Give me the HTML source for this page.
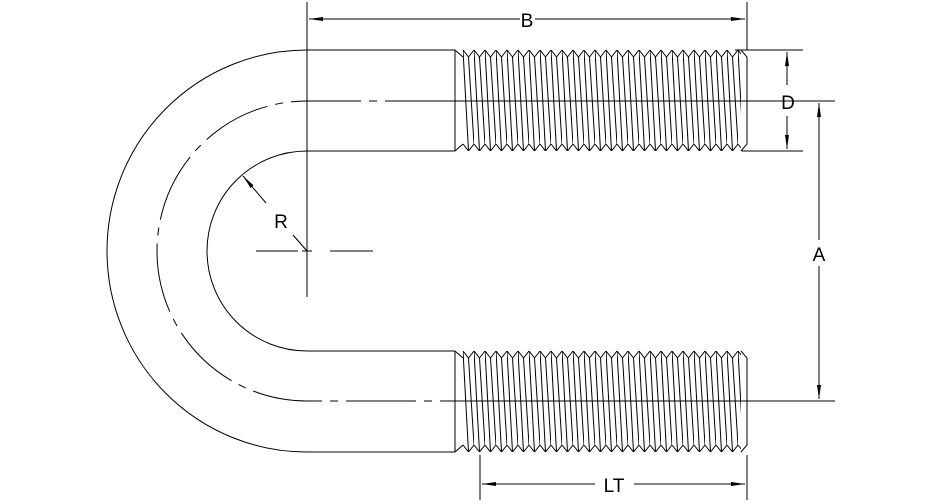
<!DOCTYPE html>
<html><head><style>html,body{margin:0;padding:0;background:#fff}svg{display:block}</style></head>
<body>
<svg width="942" height="504" viewBox="0 0 942 504" xmlns="http://www.w3.org/2000/svg" font-family="Liberation Sans, sans-serif">
<defs>
<pattern id="th" x="463" y="50" width="11" height="101" patternUnits="userSpaceOnUse">
<path d="M0,0 L5.5,7 L11,0 M0,94 L5.5,101 L11,94 M0,0 L5.5,101 M5.5,7 L11,94" fill="none" stroke="#000" stroke-width="1"/>
</pattern>
<pattern id="th2" x="463" y="351" width="11" height="101" patternUnits="userSpaceOnUse">
<path d="M0,0 L5.5,7 L11,0 M0,94 L5.5,101 L11,94 M0,0 L5.5,101 M5.5,7 L11,94" fill="none" stroke="#000" stroke-width="1"/>
</pattern>
<marker id="ar" markerWidth="14" markerHeight="6" refX="14" refY="3" orient="auto" markerUnits="userSpaceOnUse"><path d="M0,1 L14,3 L0,5 Z" fill="#000"/></marker>
</defs>
<g fill="none" stroke="#000" stroke-width="1">
<!-- U body -->
<path d="M455,50 L307,50 A200,201 0 0 0 307,452 L455,452"/>
<path d="M455,151 L307,151 A100,100 0 0 0 307,351 L455,351"/>
<path d="M455,101 L307,101 A150,150 0 0 0 307,401 L455,401" stroke-dasharray="70 8 8 8"/>
<!-- thread blocks -->
<rect x="463" y="50" width="278" height="101" fill="url(#th)" stroke="none"/>
<rect x="463" y="351" width="278" height="101" fill="url(#th2)" stroke="none"/>
<path d="M455,50 L455,151 M455,50 L463,57 M455,151 L463,144 M455,351 L455,452 M455,351 L463,358 M455,452 L463,445"/>
<path d="M741,50 L747,57 L747,144 L741,151 M741,351 L747,358 L747,445 L741,452"/>
<!-- centerlines through threads -->
<line x1="455" y1="101" x2="835" y2="101"/>
<line x1="455" y1="401" x2="835" y2="401"/>
<!-- center mark -->
<line x1="307" y1="2" x2="307" y2="297"/>
<path d="M256,251 L298,251 M302,251 L312,251 M330,251 L373,251"/>
<!-- R leader -->
<path d="M266,203 L243,176" marker-end="url(#ar)"/>
<line x1="293" y1="235" x2="307" y2="251"/>
<!-- B -->
<line x1="747" y1="2" x2="747" y2="50"/>
<line x1="520" y1="19" x2="309" y2="19" marker-end="url(#ar)"/>
<line x1="535" y1="19" x2="745" y2="19" marker-end="url(#ar)"/>
<!-- D -->
<line x1="735" y1="50" x2="803" y2="50"/>
<line x1="742" y1="151" x2="803" y2="151"/>
<line x1="787" y1="85" x2="787" y2="52" marker-end="url(#ar)"/>
<line x1="787" y1="116" x2="787" y2="149" marker-end="url(#ar)"/>
<!-- A -->
<line x1="819" y1="240" x2="819" y2="103" marker-end="url(#ar)"/>
<line x1="819" y1="266" x2="819" y2="399" marker-end="url(#ar)"/>
<!-- LT -->
<line x1="480" y1="455" x2="480" y2="500"/>
<line x1="747" y1="455" x2="747" y2="500"/>
<line x1="595" y1="484" x2="482" y2="484" marker-end="url(#ar)"/>
<line x1="634" y1="484" x2="745" y2="484" marker-end="url(#ar)"/>
</g>
<g font-size="19" fill="#000" text-anchor="middle">
<text x="527" y="27">B</text>
<text x="788" y="109">D</text>
<text x="819" y="261">A</text>
<text x="281" y="228">R</text>
<text x="614" y="492">LT</text>
</g>
</svg>
</body></html>
